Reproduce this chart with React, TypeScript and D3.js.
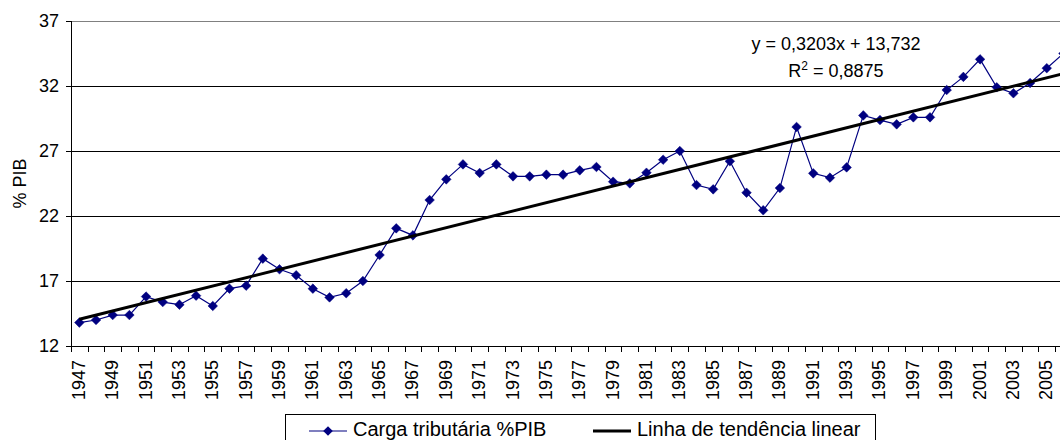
import React from "react";
import * as d3 from "d3";

const years: string[] = d3.range(1947, 2007).map(String);
const carga: number[] = [
  13.8, 14.0, 14.38, 14.38, 15.8, 15.38, 15.18, 15.87, 15.08, 16.41,
  16.64, 18.72, 17.9, 17.44, 16.41, 15.74, 16.06, 17.0, 19.0, 21.05,
  20.51, 23.23, 24.82, 25.97, 25.31, 25.97, 25.05, 25.05, 25.18, 25.18,
  25.51, 25.77, 24.64, 24.51, 25.33, 26.33, 27.0, 24.38, 24.05, 26.21,
  23.79, 22.44, 24.15, 28.85, 25.28, 24.95, 25.74, 29.74, 29.38, 29.05,
  29.59, 29.59, 31.69, 32.7, 34.05, 31.9, 31.44, 32.23, 33.37, 34.5,
];
const yTicks: number[] = [12, 17, 22, 27, 32, 37];
const trendSlope = 0.3203;
const trendIntercept = 13.732;
const equationText = "y = 0,3203x + 13,732";
const r2Value = "0,8875";
const yTitle = "% PIB";
const seriesName = "Carga tributária %PIB";
const trendName = "Linha de tendência linear";

const FONT = "'Liberation Sans', Arial, Helvetica, sans-serif";
const NAVY = "#000080";

export default function App() {
  const W = 1060, H = 440;
  const left = 71, top = 21, bottom = 346;
  const step = 16.68;
  const x = d3.scaleBand<string>().domain(years).range([left, left + step * years.length]).paddingInner(0).paddingOuter(0);
  const y = d3.scaleLinear().domain([12, 37]).range([bottom, top]);
  const cx = (yr: string) => (x(yr) as number) + x.bandwidth() / 2;

  const pts: [number, number][] = years.map((yr, i) => [cx(yr), y(carga[i])]);
  const line = d3.line<[number, number]>().x(d => d[0]).y(d => d[1]);

  const trendPts: [number, number][] = [
    [cx(years[0]), y(trendSlope * 1 + trendIntercept)],
    [cx(years[years.length - 1]), y(trendSlope * years.length + trendIntercept)],
  ];

  const diamond = (r: number) => `M0,${-r}L${r},0L0,${r}L${-r},0Z`;
  const right = left + step * years.length;

  return (
    <svg width={W} height={H} style={{ position: "absolute", left: 0, top: 0, background: "#fff" }} fontFamily={FONT}>
      {/* gridlines */}
      {yTicks.filter(t => t !== 12 && t !== 37).map(t => (
        <line key={t} x1={left} x2={right} y1={Math.round(y(t)) + 0.5} y2={Math.round(y(t)) + 0.5} stroke="#000" strokeWidth={1} />
      ))}
      {/* plot border top */}
      <line x1={left} x2={right} y1={Math.round(y(37)) + 0.5} y2={Math.round(y(37)) + 0.5} stroke="#808080" strokeWidth={1} />
      {/* axes */}
      <line x1={left + 0.5} x2={left + 0.5} y1={top} y2={bottom + 1} stroke="#000" />
      <line x1={left} x2={right} y1={bottom + 0.5} y2={bottom + 0.5} stroke="#000" />
      {/* y ticks */}
      {yTicks.map(t => (
        <g key={t}>
          <line x1={66} x2={left} y1={Math.round(y(t)) + 0.5} y2={Math.round(y(t)) + 0.5} stroke="#000" />
          <text x={59} y={y(t)} dy="0.36em" textAnchor="end" fontSize={18} fill="#000">{t}</text>
        </g>
      ))}
      {/* x ticks */}
      {years.map(yr => (
        <line key={yr} x1={Math.round(x(yr) as number) + 0.5} x2={Math.round(x(yr) as number) + 0.5} y1={bottom} y2={bottom + 6} stroke="#000" />
      ))}
      {x.domain().filter((_, i) => i % 2 === 0).map(yr => (
        <text key={yr} transform={`translate(${cx(yr) - 1},${360}) rotate(-90)`} textAnchor="end" dy="0.36em" fontSize={18} fill="#000">{yr}</text>
      ))}
      {/* y title */}
      <text transform={`translate(20,${(top + bottom) / 2}) rotate(-90)`} textAnchor="middle" dy="0.36em" fontSize={18} fill="#000">{yTitle}</text>
      {/* series */}
      <g>
        <path d={line(pts) as string} fill="none" stroke={NAVY} strokeWidth={1.2} />
        {pts.map((p, i) => (
          <path key={i} d={diamond(4.8)} transform={`translate(${p[0]},${p[1]})`} fill={NAVY} stroke={NAVY} strokeWidth={0.5} />
        ))}
        <path d={line(trendPts) as string} fill="none" stroke="#000" strokeWidth={3} />
      </g>
      {/* equation */}
      <text x={836} y={50} textAnchor="middle" fontSize={18} fill="#000">{equationText}</text>
      <text x={836} y={77} textAnchor="middle" fontSize={18} fill="#000">
        R<tspan dy={-7} fontSize={12}>2</tspan><tspan dy={7}>{` = ${r2Value}`}</tspan>
      </text>
      {/* legend */}
      <rect x={285.5} y={414.5} width={590} height={40} fill="#fff" stroke="#000" strokeWidth={1} />
      <line x1={309} x2={347} y1={431} y2={431} stroke={NAVY} strokeWidth={1.2} />
      <path d={diamond(4.8)} transform="translate(328,431)" fill={NAVY} />
      <text x={353} y={436} fontSize={20} fill="#000">{seriesName}</text>
      <line x1={593} x2={631} y1={431} y2={431} stroke="#000" strokeWidth={3} />
      <text x={637} y={436} fontSize={20} fill="#000">{trendName}</text>
    </svg>
  );
}
